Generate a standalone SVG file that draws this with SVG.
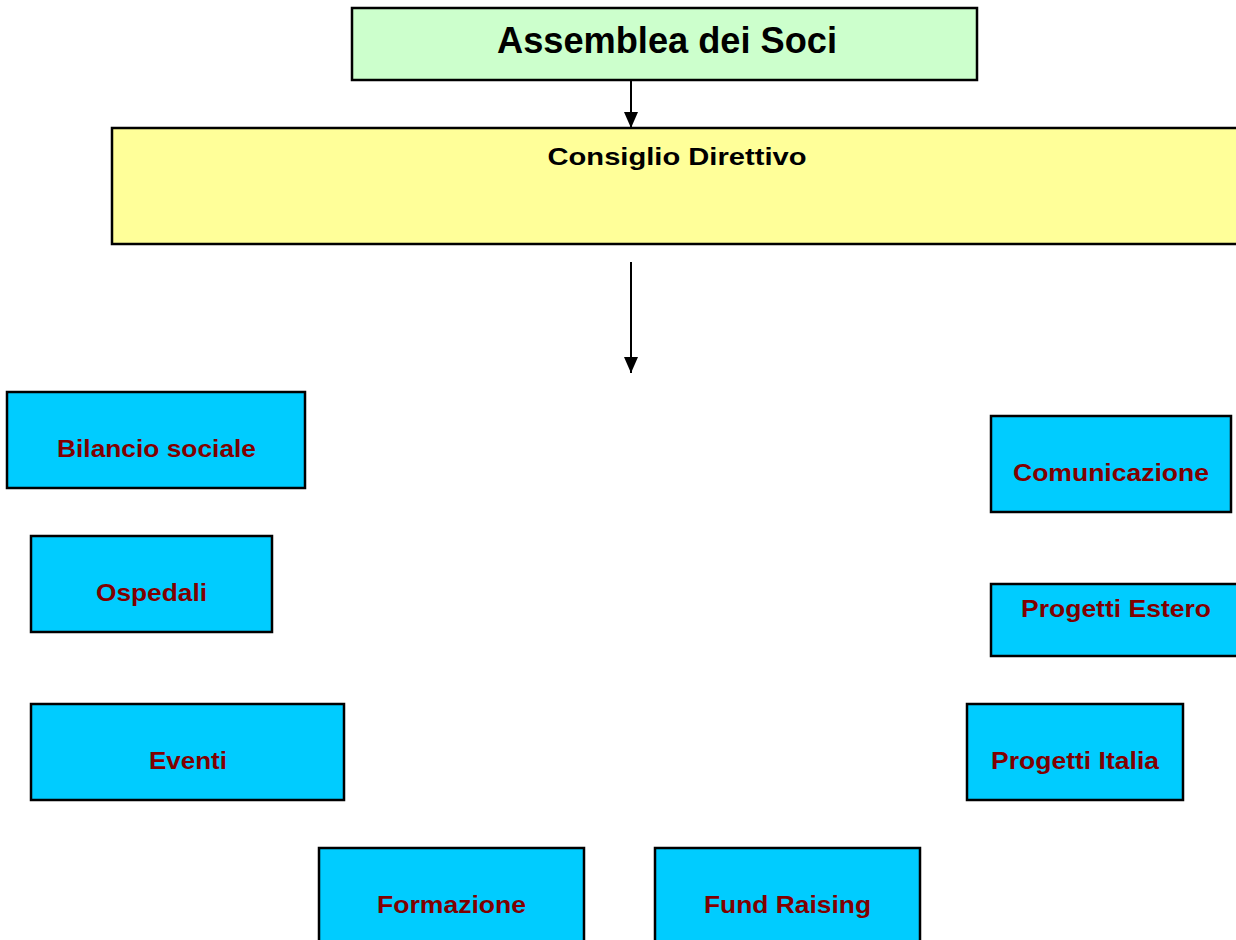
<svg xmlns="http://www.w3.org/2000/svg" width="1236" height="940" viewBox="0 0 1236 940">
<style>
  .box { stroke:#000; stroke-width:2.5; }
  .green { fill:#CCFFCC; }
  .yellow { fill:#FFFF99; }
  .blue { fill:#00CCFF; }
  .t { font-family:"Liberation Sans", Arial, sans-serif; font-weight:bold; text-anchor:middle; }
  .dark { fill:#000; }
  .red { fill:#800000; font-size:24px; }
  .conn { stroke:#000; stroke-width:2; fill:none; }
</style>
<defs>
  <marker id="arr" viewBox="0 0 16 14" refX="16" refY="7" markerWidth="16" markerHeight="14" markerUnits="userSpaceOnUse" orient="auto">
    <path d="M0,0 L16,7 L0,14 z" fill="#000"/>
  </marker>
</defs>
<rect width="1236" height="940" fill="#fff"/>

<g id="assemblea">
  <rect class="box green" x="352" y="8" width="625" height="72"/>
  <text class="t dark" x="667" y="53" font-size="36" textLength="340" lengthAdjust="spacingAndGlyphs">Assemblea dei Soci</text>
</g>

<g id="consiglio">
  <rect class="box yellow" x="112" y="128" width="1130" height="116"/>
  <text class="t dark" x="677" y="165" font-size="24" textLength="259" lengthAdjust="spacingAndGlyphs">Consiglio Direttivo</text>
</g>

<g id="connectors">
  <line class="conn" x1="631" y1="80" x2="631" y2="128" marker-end="url(#arr)"/>
  <line class="conn" x1="631" y1="262" x2="631" y2="373" marker-end="url(#arr)"/>
</g>

<g id="bilancio">
  <rect class="box blue" x="7" y="392" width="298" height="96"/>
  <text class="t red" x="156.5" y="457" textLength="199" lengthAdjust="spacingAndGlyphs">Bilancio sociale</text>
</g>

<g id="ospedali">
  <rect class="box blue" x="31" y="536" width="241" height="96"/>
  <text class="t red" x="151.5" y="601" textLength="111" lengthAdjust="spacingAndGlyphs">Ospedali</text>
</g>

<g id="eventi">
  <rect class="box blue" x="31" y="704" width="313" height="96"/>
  <text class="t red" x="188" y="769" textLength="78" lengthAdjust="spacingAndGlyphs">Eventi</text>
</g>

<g id="formazione">
  <rect class="box blue" x="319" y="848" width="265" height="100"/>
  <text class="t red" x="451.5" y="913" textLength="149" lengthAdjust="spacingAndGlyphs">Formazione</text>
</g>

<g id="fundraising">
  <rect class="box blue" x="655" y="848" width="265" height="100"/>
  <text class="t red" x="787.5" y="913" textLength="167" lengthAdjust="spacingAndGlyphs">Fund Raising</text>
</g>

<g id="comunicazione">
  <rect class="box blue" x="991" y="416" width="240" height="96"/>
  <text class="t red" x="1111" y="481" textLength="196" lengthAdjust="spacingAndGlyphs">Comunicazione</text>
</g>

<g id="progettiestero">
  <rect class="box blue" x="991" y="584" width="250" height="72"/>
  <text class="t red" x="1116" y="617" textLength="190" lengthAdjust="spacingAndGlyphs">Progetti Estero</text>
</g>

<g id="progettiitalia">
  <rect class="box blue" x="967" y="704" width="216" height="96"/>
  <text class="t red" x="1075" y="769" textLength="168" lengthAdjust="spacingAndGlyphs">Progetti Italia</text>
</g>
</svg>
